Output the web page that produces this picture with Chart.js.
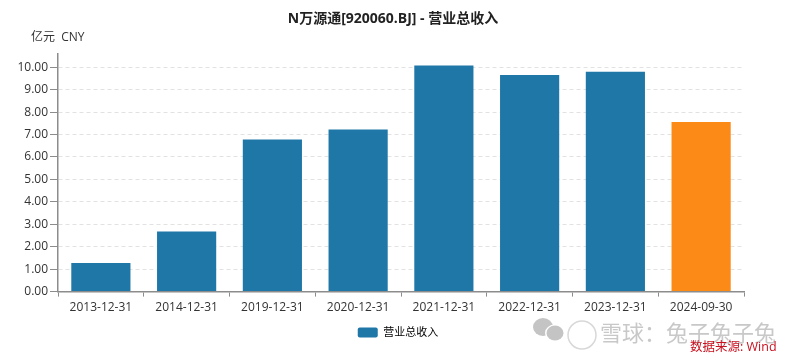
<!DOCTYPE html>
<html>
<head>
<meta charset="utf-8">
<style>
  html, body { margin: 0; padding: 0; background: #fff; }
  #wrap { width: 800px; height: 362px; }
</style>
<script src="https://cdn.jsdelivr.net/npm/chart.js@4/dist/chart.umd.min.js"></script>
</head>
<body>
<div id="wrap"><canvas id="chart"></canvas></div>
<script>
const categories = ["2013-12-31", "2014-12-31", "2019-12-31", "2020-12-31", "2021-12-31", "2022-12-31", "2023-12-31", "2024-09-30"];
const revenue = [1.28, 2.68, 6.78, 7.23, 10.08, 9.66, 9.80, 7.56];
const barColors = ["#1f77a8", "#1f77a8", "#1f77a8", "#1f77a8", "#1f77a8", "#1f77a8", "#1f77a8", "#fb8a17"];
const yTicks = [0, 1, 2, 3, 4, 5, 6, 7, 8, 9, 10];
const seriesName = "营业总收入";
const titleText = "N万源通[920060.BJ] - 营业总收入";
const unitText = "亿元  CNY";
const sourceText = "数据来源: Wind";
const watermarkText = "雪球：兔子兔子兔";

const fontFamily = '"Open Sans", "Noto Sans CJK SC", sans-serif';

// unit label, watermark and source note sit outside the axes
const notes = {
  id: "notes",
  afterLayout(chart) {
    // legend is not centred with the title in the original
    chart.legend.left += 5;
    chart.legend.right += 5;
  },
  afterDraw(chart) {
    const ctx = chart.ctx;
    ctx.save();
    ctx.textBaseline = "middle";
    ctx.fillStyle = "#333";
    ctx.font = "12px " + fontFamily;
    ctx.fillText(unitText, 31, 38);

    // wechat mark
    ctx.fillStyle = "#c4c4c4";
    ctx.beginPath();
    ctx.ellipse(543, 327, 10, 9, 0, 0, Math.PI * 2);
    ctx.fill();
    ctx.fillStyle = "#fff";
    ctx.beginPath();
    ctx.ellipse(555, 333, 10, 8.5, 0, 0, Math.PI * 2);
    ctx.fill();
    ctx.fillStyle = "#c4c4c4";
    ctx.beginPath();
    ctx.ellipse(555, 333, 8.5, 7.5, 0, 0, Math.PI * 2);
    ctx.fill();

    ctx.strokeStyle = "#d8d8d8";
    ctx.lineWidth = 1.5;
    ctx.beginPath();
    ctx.arc(582, 335, 14, 0, Math.PI * 2);
    ctx.stroke();

    ctx.fillStyle = "rgba(170,170,170,0.65)";
    ctx.font = '22px "Noto Sans CJK SC", sans-serif';
    ctx.fillText(watermarkText, 600, 333);

    ctx.fillStyle = "#c8101e";
    ctx.font = "12.5px " + fontFamily;
    ctx.fillText(sourceText, 690, 347);
    ctx.restore();
  }
};

new Chart(document.getElementById("chart"), {
  type: "bar",
  data: {
    labels: categories,
    datasets: [{
      label: seriesName,
      data: revenue,
      backgroundColor: barColors,
      borderColor: barColors,
      borderWidth: 0,
      categoryPercentage: 1,
      barPercentage: 0.69
    }]
  },
  plugins: [notes],
  options: {
    responsive: true,
    maintainAspectRatio: false,
    animation: false,
    layout: { padding: { left: 0, right: 14, top: 11, bottom: 14 } },
    plugins: {
      tooltip: { enabled: false },
      title: {
        display: true,
        text: titleText,
        color: "#222",
        font: { family: fontFamily, size: 14, weight: "bold" },
        padding: { top: 0, bottom: 26 }
      },
      legend: {
        position: "bottom",
        labels: {
          color: "#333",
          boxWidth: 20,
          boxHeight: 10,
          padding: 8,
          font: { family: fontFamily, size: 11 },
          generateLabels: () => [{
            text: seriesName,
            fillStyle: barColors[0],
            strokeStyle: barColors[0],
            lineWidth: 0,
            borderRadius: 2
          }]
        }
      }
    },
    scales: {
      x: {
        border: { color: "#8c8c8c", width: 1.5 },
        grid: { drawOnChartArea: false, tickLength: 5, tickColor: "#8c8c8c" },
        ticks: { color: "#333", font: { family: fontFamily, size: 12 }, maxRotation: 0, autoSkip: false, padding: 4 }
      },
      y: {
        min: 0,
        max: 10.6,
        afterBuildTicks(axis) { axis.ticks = yTicks.map((v) => ({ value: v })); },
        afterFit(axis) { axis.width = 58; },
        border: { color: "#8c8c8c", width: 1.5, dash: [4, 3] },
        grid: {
          color: "#e2e2e2",
          lineWidth: 1,
          tickColor: "#8c8c8c",
          tickBorderDash: [],
          tickLength: 8
        },
        ticks: {
          color: "#333",
          padding: 2,
          font: { family: fontFamily, size: 12 },
          callback: (v) => v.toFixed(2)
        }
      },
      // empty right axis keeps the plot clear of the right margin
      spacer: {
        position: "right",
        afterFit(axis) { axis.width = 42; },
        afterBuildTicks(axis) { axis.ticks = []; },
        border: { display: false },
        grid: { display: false },
        ticks: { display: false }
      }
    }
  }
});
</script>
</body>
</html>
